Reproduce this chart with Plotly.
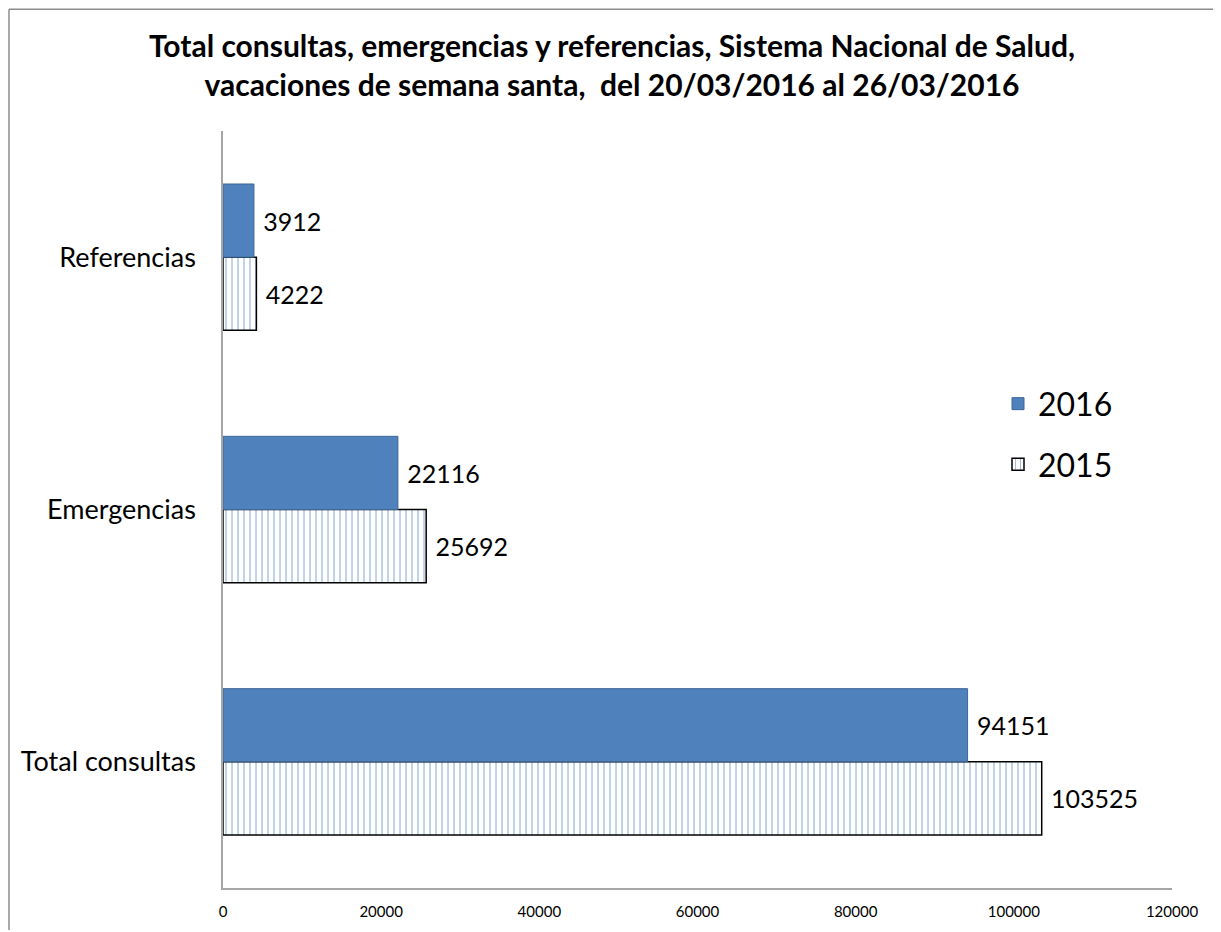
import plotly.graph_objects as go

categories = ["Total consultas", "Emergencias", "Referencias"]
values_2016 = [94151, 22116, 3912]
values_2015 = [103525, 25692, 4222]
x_ticks = [0, 20000, 40000, 60000, 80000, 100000, 120000]

OFF = 8  # page body margin
W, H = 1221 - OFF, 932 - OFF
# target screen positions of plot area
PX0, PX1, PY0, PY1 = 223, 1172, 131, 890
L = PX0 - OFF
T = PY0 - OFF
R = W - (PX1 - OFF)
B = H - (PY1 - OFF)
pw, ph = PX1 - PX0, PY1 - PY0


def px(x):
    return (x - PX0) / pw


def py(y):
    return (PY1 - y) / ph


fig = go.Figure()
fig.add_trace(go.Bar(
    y=categories, x=values_2015, orientation="h", name="2015",
    legendgroup="a", legendrank=2,
    marker=dict(color="white", line=dict(color="black", width=1.5),
                pattern=dict(shape="|", fgcolor="#7fa3d1", bgcolor="white",
                             size=6, solidity=0.2, fgopacity=0.8)),
    text=[" " + str(v) for v in values_2015], textposition="outside",
    textfont=dict(size=25, color="black", family="Lato"), cliponaxis=False,
))
fig.add_trace(go.Bar(
    y=categories, x=values_2016, orientation="h", name="2016",
    legendgroup="b", legendrank=1,
    marker=dict(color="#4f81bd", line=dict(color="#3f6797", width=1)),
    text=[" " + str(v) for v in values_2016], textposition="outside",
    textfont=dict(size=25, color="black", family="Lato"), cliponaxis=False,
))

fig.update_layout(
    width=W, height=H,
    margin=dict(l=L, r=R, t=T, b=B),
    paper_bgcolor="white", plot_bgcolor="white",
    barmode="group", bargap=0.42, bargroupgap=0,
    font=dict(family="Lato", color="black"),
    title=dict(
        text="<b>Total consultas, emergencias y referencias, Sistema Nacional de Salud,<br>vacaciones de semana santa,  del 20/03/2016 al 26/03/2016</b>",
        x=(612 - OFF) / W, xanchor="center", y=1 - 49 / H, yanchor="top",
        font=dict(size=30, family="Lato", color="black"),
    ),
    xaxis=dict(range=[0, 120000], tickvals=x_ticks, ticktext=[str(v) for v in x_ticks],
               showgrid=False, zeroline=False, showline=True, linecolor="#a6a6a6",
               linewidth=1.5, ticks="", tickfont=dict(size=15), ticklabelstandoff=9),
    yaxis=dict(showgrid=False, zeroline=False, showline=True, linecolor="#a6a6a6",
               linewidth=1.5, ticks="", tickfont=dict(size=27), ticklabelstandoff=20),
    legend=dict(x=px(998), y=py(377), xanchor="left", yanchor="top",
                traceorder="grouped", tracegroupgap=16,
                font=dict(size=32), bgcolor="rgba(0,0,0,0)"),
    shapes=[
        dict(type="line", xref="paper", yref="paper",
             x0=px(9), x1=px(1221), y0=py(9), y1=py(9),
             line=dict(color="#8c8c8c", width=1.5), layer="below"),
        dict(type="line", xref="paper", yref="paper",
             x0=px(9), x1=px(9), y0=py(9), y1=py(932),
             line=dict(color="#8c8c8c", width=1.5), layer="below"),
    ],
)

fig.write_html("out.html")
